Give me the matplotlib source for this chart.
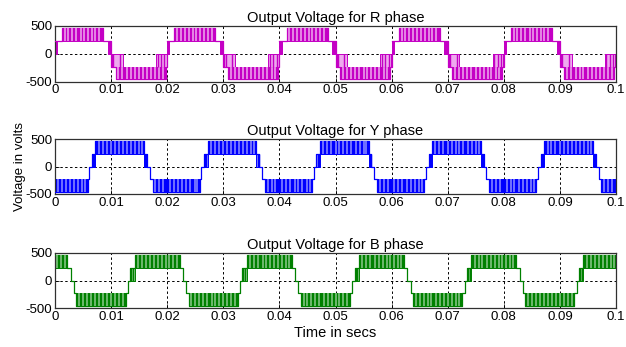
import numpy as np
import matplotlib
matplotlib.use("Agg")
import matplotlib.pyplot as plt

plt.rcParams['font.family'] = ['Liberation Sans', 'DejaVu Sans']

# ---------------- data (one 50 Hz period, repeated for 0.1 s) ----------------
PERIOD = 0.02
N_CYCLES = 5

# R phase
r_band_start = [0.0000, 0.0013, 0.0094, 0.0100, 0.0108, 0.0180]
r_band_end   = [0.0004, 0.0086, 0.0100, 0.0121, 0.0197, 0.0199]
r_band_lo    = [0, 230, 0, -230, -460, -230]
r_band_hi    = [230, 460, 230, 0, -230, 0]
r_band_dense = [1, 1, 1, 0, 1, 0]
r_step_t = [0.0000, 0.0013, 0.0086, 0.0100, 0.0108, 0.0197, 0.0200]
r_step_v = [230, 460, 230, -230, -460, -230, 0]
r_light = [0.0018, 0.0024, 0.0031, 0.0038, 0.0046, 0.0052, 0.0059, 0.0066, 0.0072, 0.0079,
           0.0113, 0.0120, 0.0128, 0.0135, 0.0142, 0.0150, 0.0157, 0.0164, 0.0171, 0.0178, 0.0186, 0.0192]
r_dark = [0.0102, 0.0104, 0.0116, 0.0183, 0.0189, 0.0195]

# Y phase
y_band_start = [0.0000, 0.0066, 0.0072, 0.0159, 0.0174]
y_band_end   = [0.0058, 0.0072, 0.0159, 0.0164, 0.0200]
y_band_lo    = [-460, 0, 230, 0, -460]
y_band_hi    = [-230, 230, 460, 230, -230]
y_band_dense = [1, 0, 1, 0, 1]
y_step_t = [0.0000, 0.0058, 0.0061, 0.0066, 0.0072, 0.0159, 0.0164, 0.0169, 0.0174, 0.0200]
y_step_v = [-460, -230, 0, 230, 460, 230, 0, -230, -460, -460]
y_light = [0.0005, 0.0012, 0.0019, 0.0027, 0.0034, 0.0041, 0.0049, 0.0054,
           0.0078, 0.0085, 0.0092, 0.0100, 0.0107, 0.0114, 0.0121, 0.0128, 0.0136, 0.0143, 0.0150, 0.0155,
           0.0179, 0.0186, 0.0193]
y_dark = [0.0068, 0.0070, 0.0161, 0.0163]

# B phase
b_band_start = [0.0000, 0.0038, 0.0134, 0.0142]
b_band_end   = [0.0022, 0.0126, 0.0142, 0.0200]
b_band_lo    = [230, -460, 0, 230]
b_band_hi    = [460, -230, 230, 460]
b_band_dense = [1, 1, 0, 1]
b_step_t = [0.0000, 0.0022, 0.0028, 0.0034, 0.0038, 0.0126, 0.0130, 0.0134, 0.0142, 0.0200]
b_step_v = [460, 230, 0, -230, -460, -230, 0, 230, 460, 460]
b_light = [0.0004, 0.0011, 0.0017,
           0.0043, 0.0050, 0.0057, 0.0064, 0.0071, 0.0079, 0.0086, 0.0093, 0.0100, 0.0107, 0.0114, 0.0121,
           0.0148, 0.0155, 0.0162, 0.0170, 0.0177, 0.0184, 0.0191, 0.0197]
b_dark = [0.0136, 0.0139]

titles = ["Output Voltage for R phase", "Output Voltage for Y phase", "Output Voltage for B phase"]
x_ticks = [0, 0.01, 0.02, 0.03, 0.04, 0.05, 0.06, 0.07, 0.08, 0.09, 0.1]
x_tick_labels = ["0", "0.01", "0.02", "0.03", "0.04", "0.05", "0.06", "0.07", "0.08", "0.09", "0.1"]
y_ticks = [-500, 0, 500]
y_tick_labels = ["-500", "0", "500"]

phases = [
    dict(bs=r_band_start, be=r_band_end, lo=r_band_lo, hi=r_band_hi, dense=r_band_dense,
         st=r_step_t, sv=r_step_v, light=r_light, dark=r_dark,
         color="#c400c4", pale="#eeaaee"),
    dict(bs=y_band_start, be=y_band_end, lo=y_band_lo, hi=y_band_hi, dense=y_band_dense,
         st=y_step_t, sv=y_step_v, light=y_light, dark=y_dark,
         color="#0000ff", pale="#9090ff"),
    dict(bs=b_band_start, be=b_band_end, lo=b_band_lo, hi=b_band_hi, dense=b_band_dense,
         st=b_step_t, sv=b_step_v, light=b_light, dark=b_dark,
         color="#008000", pale="#8cc88c"),
]

fig = plt.figure(figsize=(6.26, 3.47), dpi=100)
W, H = 626, 347
left_px, right_px = 55, 616
panels_px = [(25.7, 81.7), (139.0, 194.0), (252.7, 308.3)]

axes = []
for (top, bot) in panels_px:
    ax = fig.add_axes([left_px / W, 1 - bot / H, (right_px - left_px) / W, (bot - top) / H])
    axes.append(ax)

for ax, ph, title in zip(axes, phases, titles):
    c, pale = ph["color"], ph["pale"]
    for k in range(N_CYCLES):
        off = k * PERIOD
        # PWM bands
        for s, e, lo, hi, d in zip(ph["bs"], ph["be"], ph["lo"], ph["hi"], ph["dense"]):
            ax.fill_between([s + off, e + off], [lo, lo], [hi, hi],
                            facecolor=(c if d else pale), edgecolor=c, linewidth=0.7, zorder=2)
        # staircase outline
        ax.step(np.array(ph["st"]) + off, ph["sv"], where="post", color=c, linewidth=0.9, zorder=3)
        # light switching stripes in dense bands
        for t in ph["light"]:
            for s, e, lo, hi, d in zip(ph["bs"], ph["be"], ph["lo"], ph["hi"], ph["dense"]):
                if d and s <= t <= e:
                    ax.vlines(t + off, lo, hi, color=pale, linewidth=1.1, zorder=4)
        # dark switching lines in sparse bands
        for t in ph["dark"]:
            for s, e, lo, hi, d in zip(ph["bs"], ph["be"], ph["lo"], ph["hi"], ph["dense"]):
                if (not d) and s <= t <= e:
                    ax.vlines(t + off, lo, hi, color=c, linewidth=1.0, zorder=4)

    ax.set_xlim(0, 0.1)
    ax.set_ylim(-500, 500)
    ax.set_xticks(x_ticks)
    ax.set_xticklabels(x_tick_labels)
    ax.set_yticks(y_ticks)
    ax.set_yticklabels(y_tick_labels)
    ax.tick_params(direction="in", length=3, width=0.6, labelsize=9.5, pad=2, colors="black")
    ax.set_axisbelow(True)
    ax.grid(True, color="black", linestyle=(0, (2.5, 2.5)), linewidth=0.7)
    for sp in ax.spines.values():
        sp.set_linewidth(0.9)
        sp.set_color("#303030")
    ax.set_title(title, fontsize=10.5, pad=3)

axes[1].set_ylabel("Voltage in volts", fontsize=9.5, labelpad=0)
axes[2].set_xlabel("Time in secs", fontsize=10.5, labelpad=2)

fig.savefig("out.png", dpi=100)
